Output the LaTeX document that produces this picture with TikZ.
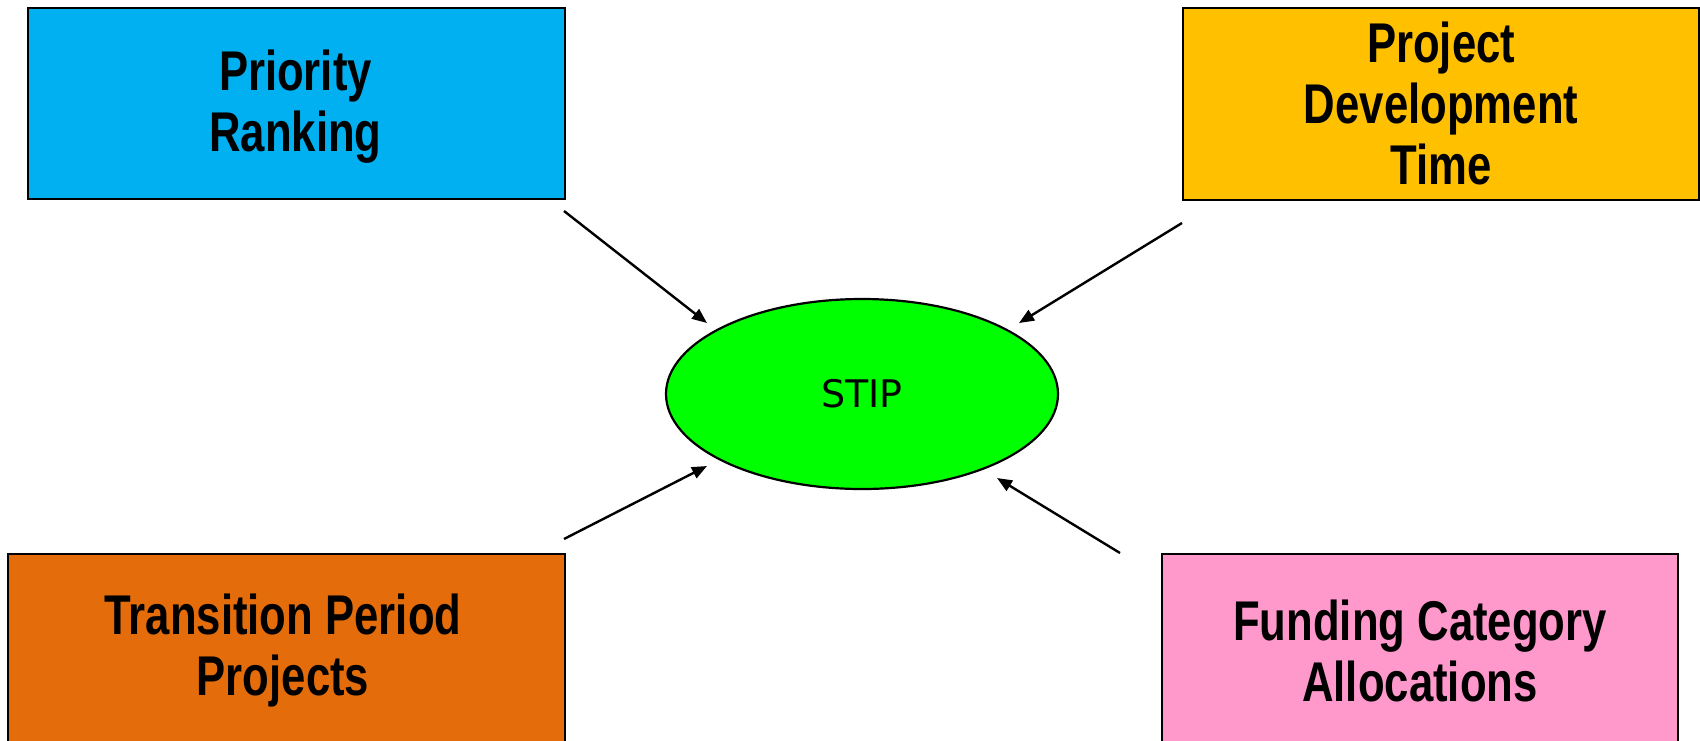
\documentclass[tikz,border=0pt]{standalone}
\usepackage{fontspec}
\usetikzlibrary{arrows.meta,shapes.geometric}
\setmainfont{Liberation Sans}
\newfontfamily\boxfont{Liberation Sans}[FakeStretch=0.78]
\newfontfamily\stipfont{DejaVu Sans}
\definecolor{cblue}{HTML}{00B0F0}
\definecolor{cyellow}{HTML}{FFC000}
\definecolor{corange}{HTML}{E46C0A}
\definecolor{cpink}{HTML}{FF99CC}
\definecolor{cgreen}{HTML}{00FF00}
\begin{document}
\begin{tikzpicture}[x=1pt,y=-1pt,
  boxtext/.style={font=\boxfont\bfseries\fontsize{56}{61}\selectfont,align=center},
  box/.style={draw=black,line width=2.2pt,anchor=north west,inner sep=0pt,boxtext},
  arr/.style={-{Triangle[length=15pt,width=12pt]},line width=2.4pt}]
\useasboundingbox (0,0) rectangle (1700,740);
\node[box,fill=cblue,minimum width=537pt,minimum height=191pt] (pr) at (27,6.5) {};
\node[boxtext] (prt) at (295.5,107) {Priority\\Ranking};
\node[box,fill=cyellow,minimum width=516pt,minimum height=192pt] (pd) at (1182,6.5) {Project\\Development\\Time};
\node[box,fill=corange,minimum width=557pt,minimum height=220pt] (tp) at (6.5,553) {};
\node[box,fill=cpink,minimum width=516pt,minimum height=220pt] (fc) at (1161,553) {};
\node[boxtext] (tpt) at (283,651) {Transition Period\\Projects};
\node[boxtext] (fct) at (1420,651) {Funding Category\\Allocations};
\node[ellipse,draw=black,line width=2.2pt,fill=cgreen,minimum width=392pt,minimum height=190pt,inner sep=0pt,font=\stipfont\fontsize{38}{42}\selectfont] (st) at (862,394) {STIP};
\coordinate (a1) at (564,211); \coordinate (b1) at (707,323);
\coordinate (a2) at (1182,223); \coordinate (b2) at (1019,323);
\coordinate (a3) at (564,539); \coordinate (b3) at (707,466);
\coordinate (a4) at (1120,553); \coordinate (b4) at (997,478);
\draw[arr] (a1) -- (b1);
\draw[arr] (a2) -- (b2);
\draw[arr] (a3) -- (b3);
\draw[arr] (a4) -- (b4);
\end{tikzpicture}
\end{document}
